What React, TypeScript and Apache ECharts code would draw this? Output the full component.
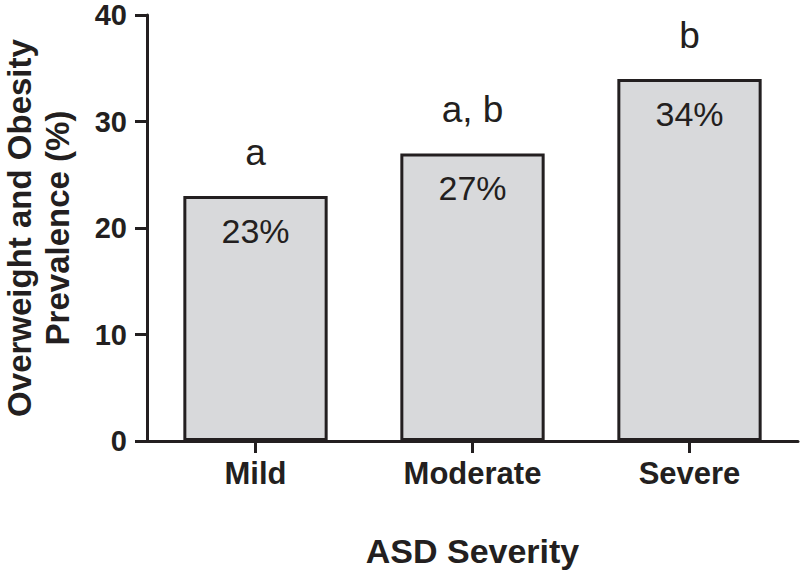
import React, { useEffect, useRef } from "react";
import * as echarts from "echarts";

const categories = ["Mild", "Moderate", "Severe"];
const prevalence = [23, 27, 34];
const percentLabels = ["23%", "27%", "34%"];
const groupLetters = ["a", "a, b", "b"];
const yTicks = { min: 0, max: 40, interval: 10 };

const INK = "#231f20";
const FONT = "'Liberation Sans', Arial, Helvetica, sans-serif";

export default function App() {
  const ref = useRef<HTMLDivElement>(null);
  useEffect(() => {
    if (!ref.current) return;
    const chart = echarts.init(ref.current, undefined, { renderer: "svg" });
    chart.setOption({
      animation: false,
      backgroundColor: "#ffffff",
      grid: { left: 147, right: 2, top: 15, bottom: 131, containLabel: false, outerBoundsMode: "none" },
      xAxis: {
        type: "category",
        data: categories,
        boundaryGap: true,
        name: "ASD Severity",
        nameLocation: "middle",
        nameGap: 93,
        nameTextStyle: { color: INK, fontFamily: FONT, fontWeight: "bold", fontSize: 34 },
        axisLine: { show: true, lineStyle: { color: INK, width: 3 } },
        axisTick: { show: true, alignWithLabel: true, length: 12, lineStyle: { color: INK, width: 3 } },
        axisLabel: { color: INK, fontFamily: FONT, fontWeight: "bold", fontSize: 31, margin: 17 },
        splitLine: { show: false },
      },
      yAxis: {
        type: "value",
        min: yTicks.min,
        max: yTicks.max,
        interval: yTicks.interval,
        name: "Overweight and Obesity\nPrevalence (%)",
        nameLocation: "middle",
        nameGap: 71,
        nameRotate: 90,
        nameTextStyle: { color: INK, fontFamily: FONT, fontWeight: "bold", fontSize: 33, lineHeight: 38 },
        axisLine: { show: true, lineStyle: { color: INK, width: 3 } },
        axisTick: { show: true, length: 12, lineStyle: { color: INK, width: 3 } },
        axisLabel: { color: INK, fontFamily: FONT, fontWeight: "bold", fontSize: 29, lineHeight: 26, margin: 20 },
        splitLine: { show: false },
      },
      series: [
        {
          type: "bar",
          data: prevalence,
          barWidth: "66.5%",
          itemStyle: { color: "#d8d9db", borderColor: INK, borderWidth: 3 },
          label: {
            show: true,
            position: "insideTop",
            distance: 18,
            formatter: (p: any) => percentLabels[p.dataIndex],
            color: INK,
            fontFamily: FONT,
            fontSize: 34,
          },
          z: 2,
        },
        {
          type: "bar",
          data: prevalence,
          barWidth: "66.5%",
          barGap: "-100%",
          silent: true,
          itemStyle: { color: "transparent", borderWidth: 0 },
          label: {
            show: true,
            position: "top",
            distance: 25,
            formatter: (p: any) => groupLetters[p.dataIndex],
            color: INK,
            fontFamily: FONT,
            fontSize: 37,
          },
          z: 1,
        },
      ],
    });
    return () => chart.dispose();
  }, []);
  return <div ref={ref} style={{ width: 800, height: 572, position: "absolute", left: 0, top: 0 }} />;
}
